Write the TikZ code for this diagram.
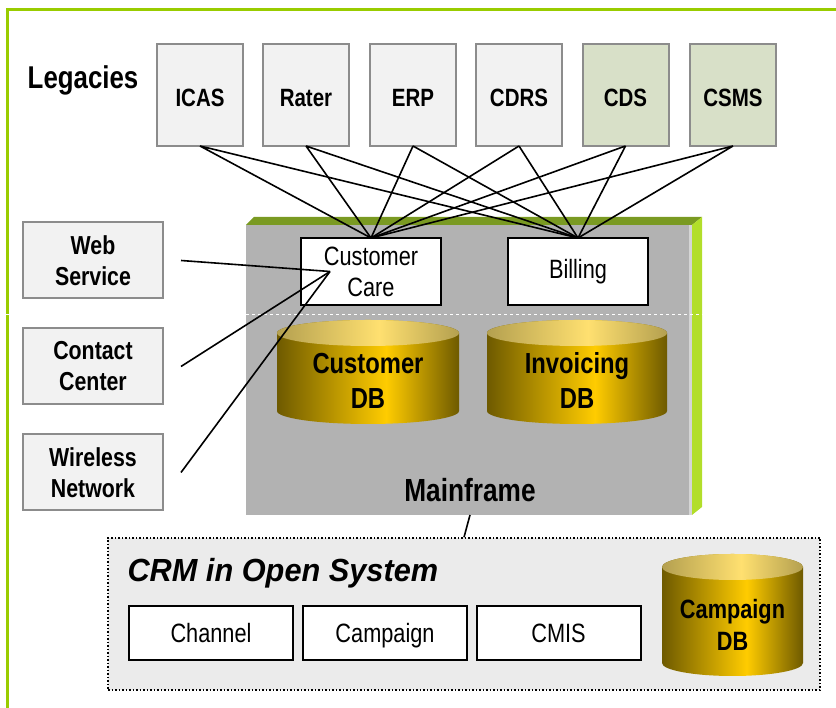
\documentclass[tikz,border=0pt]{standalone}
\usepackage{fontspec}
\setmainfont{Liberation Sans}[FakeStretch=0.82]
\newfontfamily\crmfont{Liberation Sans}[FakeStretch=0.96]
\usetikzlibrary{positioning}
\definecolor{legfill}{HTML}{F2F2F2}
\definecolor{legline}{HTML}{8C8C8C}
\definecolor{oldfill}{HTML}{D8E0C8}
\definecolor{framegreen}{HTML}{99CC00}
\definecolor{mfgray}{HTML}{B2B2B2}
\definecolor{mftop}{HTML}{7A9A22}
\definecolor{mfside}{HTML}{B2DE2A}
\definecolor{crmfill}{HTML}{EBEBEB}
\definecolor{golddark}{HTML}{6E5A00}
\definecolor{goldmid}{HTML}{FFCC00}
\definecolor{goldtopl}{HTML}{B4A050}
\definecolor{goldtopm}{HTML}{FFE070}
\pgfdeclarehorizontalshading{dbbody}{100bp}{color(0bp)=(golddark); color(25bp)=(golddark);
  color(55bp)=(goldmid); color(75bp)=(golddark); color(100bp)=(golddark)}
\pgfdeclarehorizontalshading{dbtop}{100bp}{color(0bp)=(goldtopl); color(25bp)=(goldtopl);
  color(53bp)=(goldtopm); color(75bp)=(goldtopl); color(100bp)=(goldtopl)}
% cylinder: centre x, top y, x radius, bottom y
\newcommand{\dbcyl}[4]{
  \shade[shading=dbbody] (#1-#3,#2) -- (#1-#3,#4)
    arc[start angle=180, end angle=360, x radius=#3pt, y radius=13pt]
    -- (#1+#3,#2) arc[start angle=0, end angle=180, x radius=#3pt, y radius=13pt] -- cycle;
  \shade[shading=dbtop] (#1,#2) ellipse[x radius=#3pt, y radius=13pt];
}
\begin{document}
\begin{tikzpicture}[x=1pt,y=1pt,
    legacy/.style={draw=legline, fill=legfill, line width=2pt, outer sep=0pt, text height=24pt, text depth=0pt,
      minimum width=86, minimum height=102, font=\bfseries\fontsize{25}{28}\selectfont},
    front/.style={draw=legline, fill=legfill, line width=2pt, outer sep=0pt, align=center,
      minimum width=140, minimum height=76, font=\bfseries\fontsize{26}{31}\selectfont},
    app/.style={draw, fill=white, line width=2pt, outer sep=0pt, align=center,
      font=\fontsize{26.5}{31}\selectfont},
    crmapp/.style={app, minimum width=164, minimum height=54, text height=22pt, text depth=2pt},
    dbtext/.style={align=center, font=\bfseries\fontsize{29}{35}\selectfont},
    link/.style={line width=1.6pt}]
  \useasboundingbox (0,0) rectangle (836,708);
  \draw[framegreen, line width=3pt] (7,0) -- (7,698) -- (836,698);

  % legacies
  \node[font=\bfseries\fontsize{31.5}{34}\selectfont] (leg) at (83,628) {Legacies};
  \foreach \n/\t/\x/\c in {icas/ICAS/200/legfill, rater/Rater/306/legfill,
      erp/ERP/413/legfill, cdrs/CDRS/519/legfill, cds/CDS/625.5/oldfill, csms/CSMS/733/oldfill}
    \node[legacy, fill=\c] (\n) at (\x,613) {\t};

  % mainframe
  \node[fill=mfgray, inner sep=0pt, outer sep=0pt, minimum width=446, minimum height=290] (mf) at (469,338) {};
  \fill[mftop] (mf.north west) -- ++(8,8) -- ([shift={(10,8)}]mf.north east) -- (mf.north east) -- cycle;
  \fill[mfside] (mf.north east) -- ++(10,8) -- ([shift={(10,8)}]mf.south east) -- (mf.south east) -- cycle;
  \draw[white!45!mfgray, line width=3pt] ([xshift=-2]mf.north east) -- ([xshift=-2]mf.south east);
  \draw[white, dashed, line width=0.5pt] (0,394) -- (836,394);
  \node[font=\bfseries\fontsize{32}{36}\selectfont] (mflabel) at (470,218) {Mainframe};

  \node[app, minimum width=140, minimum height=67] (cc) at (371,436.5) {Customer\\Care};
  \node[app, minimum width=140, minimum height=67] (bill) at (578,436.5) {Billing};
  \coordinate (ccin) at ([xshift=-41]cc.center);

  \dbcyl{368}{375}{91}{297}
  \node[dbtext] (custdb) at (368,327) {Customer\\DB};
  \dbcyl{577}{375}{90}{297}
  \node[dbtext] (invdb) at (577,327) {Invoicing\\DB};

  \foreach \n in {icas,rater,erp,cdrs,cds,csms}
    \draw[link] (\n.south) -- (cc.north) (\n.south) -- (bill.north);

  % front ends
  \node[front] (web) at (93,447.5) {Web\\Service};
  \node[front] (contact) at (93,341.5) {Contact\\Center};
  \node[front] (wireless) at (93,235.5) {Wireless\\Network};
  \foreach \n in {web,contact,wireless}
    \draw[link] ([xshift=18]\n.east) -- (ccin);

  % open system
  \node[draw, dotted, line width=1.5pt, fill=crmfill, minimum width=712, minimum height=152] (crm) at (464,94) {};
  \draw[link] ([xshift=1]mf.south) -- (crm.north);
  \node[anchor=west, font=\crmfont\bfseries\itshape\fontsize{32}{36}\selectfont] (crmlabel) at (124,135) {CRM in Open System};
  \node[crmapp] (chan) at (211,75) {Channel};
  \node[crmapp] (camp) at (385,75) {Campaign};
  \node[crmapp] (cmis) at (558.5,75) {CMIS};
  \dbcyl{732.5}{141}{70.5}{45}
  \node[dbtext, font=\bfseries\fontsize{26.5}{32}\selectfont] (campdb) at (732.5,83) {Campaign\\DB};
\end{tikzpicture}
\end{document}
